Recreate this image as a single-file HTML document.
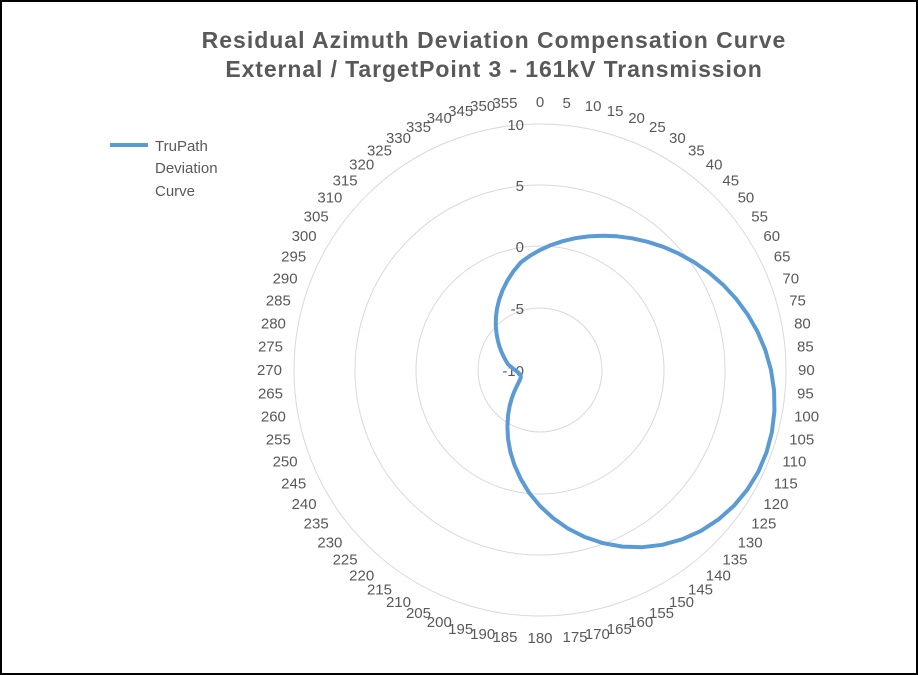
<!DOCTYPE html>
<html><head><meta charset="utf-8"><style>
html,body{margin:0;padding:0;background:#fff}
#c{position:relative;width:914px;height:671px;border:2px solid #000;overflow:hidden}
svg{position:absolute;left:-2px;top:-2px}
text{font-family:"Liberation Sans",sans-serif;fill:#595959}
</style></head><body><div id="c">
<svg id="s" width="918" height="675" xmlns="http://www.w3.org/2000/svg">
<text x="494" y="48" text-anchor="middle" font-size="23" font-weight="bold" letter-spacing="1">Residual Azimuth  Deviation Compensation  Curve</text>
<text x="494" y="77" text-anchor="middle" font-size="23" font-weight="bold" letter-spacing="0.9">External / TargetPoint 3 - 161kV Transmission</text>
<line x1="110" y1="145" x2="148" y2="145" stroke="#5b9bd5" stroke-width="4"/>
<text x="155" y="151" font-size="15">TruPath</text>
<text x="155" y="173" font-size="15">Deviation</text>
<text x="155" y="196" font-size="15">Curve</text>
<g id="g"></g>
</svg></div>
<script>
var cx=540,cy=370,R=246,g=document.getElementById('g'),h='';
[62,124,185,246].forEach(function(r){h+='<circle cx="'+cx+'" cy="'+cy+'" r="'+r+'" fill="none" stroke="#d9d9d9" stroke-width="1"/>';});
for(var a=0;a<360;a+=5){var t=a*Math.PI/180,s=Math.sin(t),c=Math.cos(t);
var x=cx+(R+12)*s,y=cy-(R+12)*c+5-10*c;var an=s>0.08?'start':(s<-0.08?'end':'middle');
h+='<text x="'+x.toFixed(1)+'" y="'+y.toFixed(1)+'" font-size="15" text-anchor="'+an+'">'+a+'</text>';}
[[10,246],[5,185],[0,124],[-5,62],[-10,0]].forEach(function(v){h+='<text x="524" y="'+(cy-v[1]+6)+'" font-size="15" text-anchor="end">'+v[0]+'</text>';});
var p=[];for(var a=0;a<=360;a+=5){var t=a*Math.PI/180;var r=128+103*Math.sin(t)-8*Math.cos(t)-21*Math.sin(2*t);
if(a>280&&a<350)r-=8*Math.sin((a-280)/70*Math.PI);
if(r<18)r=18;
p.push((cx+r*Math.sin(t)).toFixed(1)+','+(cy-r*Math.cos(t)).toFixed(1));}
h+='<polyline points="'+p.join(' ')+'" fill="none" stroke="#5b9bd5" stroke-width="4" stroke-linejoin="round"/>';
g.innerHTML=h;
</script></body></html>
